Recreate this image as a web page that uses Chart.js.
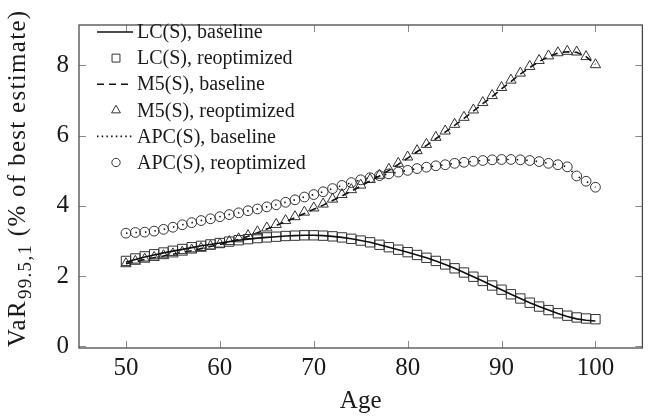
<!DOCTYPE html>
<html>
<head>
<meta charset="utf-8">
<script src="https://cdn.jsdelivr.net/npm/chart.js@4.4.1/dist/chart.umd.min.js"></script>
<style>
  html, body { margin: 0; padding: 0; background: #ffffff; }
  #wrap { width: 650px; height: 419px; }
</style>
</head>
<body>
<div id="wrap"><canvas id="c" width="650" height="419"></canvas></div>
<script>
// ---- data ----
const ages = [50,51,52,53,54,55,56,57,58,59,60,61,62,63,64,65,66,67,68,69,70,
              71,72,73,74,75,76,77,78,79,80,81,82,83,84,85,86,87,88,89,90,
              91,92,93,94,95,96,97,98,99,100];

const lcBaseline = [2.39,2.47,2.54,2.60,2.66,2.71,2.76,2.81,2.86,2.90,2.94,2.98,3.02,3.05,3.08,3.10,3.12,3.14,3.15,3.16,3.16,
                    3.15,3.13,3.10,3.06,3.01,2.96,2.89,2.82,2.75,2.68,2.60,2.52,2.43,2.33,2.22,2.10,1.98,1.86,1.73,1.61,
                    1.48,1.36,1.24,1.13,1.03,0.93,0.85,0.78,0.74,0.72];
const lcReopt    = [2.43,2.50,2.56,2.62,2.67,2.72,2.77,2.82,2.86,2.90,2.94,2.98,3.02,3.05,3.08,3.10,3.12,3.14,3.15,3.16,3.16,
                    3.15,3.13,3.10,3.06,3.01,2.96,2.89,2.82,2.75,2.68,2.60,2.52,2.43,2.33,2.22,2.10,1.98,1.86,1.73,1.61,
                    1.48,1.36,1.24,1.13,1.03,0.94,0.87,0.82,0.79,0.77];

const m5Baseline = [2.35,2.41,2.47,2.52,2.57,2.62,2.67,2.72,2.78,2.84,2.90,2.97,3.04,3.13,3.23,3.34,3.44,3.55,3.66,3.78,3.90,
                    4.02,4.15,4.28,4.42,4.56,4.71,4.85,5.01,5.18,5.36,5.54,5.72,5.91,6.10,6.29,6.49,6.70,6.91,7.11,7.33,
                    7.54,7.75,7.94,8.11,8.25,8.35,8.39,8.37,8.25,8.03];
const m5Reopt    = [2.35,2.42,2.48,2.53,2.58,2.63,2.68,2.74,2.79,2.85,2.91,2.98,3.06,3.15,3.26,3.37,3.47,3.58,3.69,3.82,3.94,
                    4.05,4.19,4.32,4.46,4.59,4.75,4.87,5.04,5.21,5.39,5.57,5.75,5.95,6.13,6.32,6.52,6.73,6.94,7.14,7.37,
                    7.58,7.78,7.97,8.14,8.27,8.36,8.40,8.38,8.25,8.02];

const apcBaseline = [3.22,3.24,3.25,3.28,3.33,3.39,3.46,3.52,3.58,3.63,3.69,3.75,3.80,3.86,3.91,3.97,4.03,4.10,4.17,4.25,4.32,
                     4.40,4.49,4.58,4.66,4.74,4.80,4.86,4.91,4.96,5.01,5.06,5.10,5.14,5.17,5.21,5.24,5.27,5.29,5.31,5.32,
                     5.32,5.31,5.29,5.26,5.21,5.17,5.11,4.85,4.70,4.53];
const apcReopt    = [3.22,3.24,3.25,3.28,3.33,3.39,3.46,3.52,3.58,3.63,3.69,3.75,3.80,3.86,3.91,3.97,4.03,4.10,4.17,4.25,4.32,
                     4.40,4.49,4.58,4.66,4.74,4.80,4.86,4.91,4.96,5.01,5.06,5.10,5.14,5.17,5.21,5.24,5.27,5.29,5.31,5.32,
                     5.32,5.31,5.29,5.26,5.21,5.17,5.11,4.85,4.70,4.53];

const seriesNames = ['LC(S), baseline','LC(S), reoptimized','M5(S), baseline',
                     'M5(S), reoptimized','APC(S), baseline','APC(S), reoptimized'];
const xTicks = [50,60,70,80,90,100];
const yTicks = [0,2,4,6,8];
const xTitle = 'Age';
const yTitleMain = 'VaR';
const yTitleSub = '99.5,1';
const yTitleRest = ' (% of best estimate)';

// ---- helpers ----
const pts = (ys) => ages.map((a, i) => ({x: a, y: ys[i]}));
const SERIF = '"Liberation Serif", "Times New Roman", serif';
const INK = '#1a1a1a';
const MARK = '#333333';

function lineDs(label, ys, dash, legendDash) {
  return { label, data: pts(ys), borderColor: '#111111', borderWidth: 1.6,
           borderDash: dash, legendDash, pointRadius: 0, fill: false, tension: 0 };
}
function markDs(label, ys, style, r) {
  return { label, data: pts(ys), showLine: false, pointStyle: style, pointRadius: r,
           pointBorderColor: MARK, pointBackgroundColor: 'rgba(0,0,0,0)', pointBorderWidth: 1,
           borderColor: MARK, backgroundColor: 'rgba(0,0,0,0)' };
}

const datasets = [
  lineDs(seriesNames[0], lcBaseline, [], []),
  markDs(seriesNames[1], lcReopt, 'rect', 6.6),
  lineDs(seriesNames[2], m5Baseline, [7,5], [7,5]),
  markDs(seriesNames[3], m5Reopt, 'triangle', 6),
  lineDs(seriesNames[4], apcBaseline, [1.5,8], [1.5,3.2]),
  markDs(seriesNames[5], apcReopt, 'circle', 4.9)
];

function drawMarker(ctx, style, r, x, y) {
  ctx.beginPath();
  if (style === 'rect') {
    const s = Math.SQRT1_2 * r;
    ctx.rect(x - s, y - s, 2 * s, 2 * s);
  } else if (style === 'triangle') {
    ctx.moveTo(x, y - r);
    ctx.lineTo(x + r * Math.cos(Math.PI / 6), y + r / 2);
    ctx.lineTo(x - r * Math.cos(Math.PI / 6), y + r / 2);
    ctx.closePath();
  } else {
    ctx.arc(x, y, r, 0, Math.PI * 2);
  }
  ctx.stroke();
}

const decor = {
  id: 'decor',
  afterDraw(chart) {
    const ctx = chart.ctx;
    const a = chart.chartArea;
    const xs = chart.scales.x, ys = chart.scales.y;
    ctx.save();
    // inward tick marks
    ctx.strokeStyle = '#8a8a8a';
    ctx.lineWidth = 1;
    const tl = 7;
    xTicks.forEach(v => {
      const px = Math.round(xs.getPixelForValue(v)) + 0.5;
      ctx.beginPath();
      ctx.moveTo(px, a.bottom); ctx.lineTo(px, a.bottom - tl);
      ctx.moveTo(px, a.top); ctx.lineTo(px, a.top + tl);
      ctx.stroke();
    });
    yTicks.forEach(v => {
      const py = Math.round(ys.getPixelForValue(v)) + 0.5;
      ctx.beginPath();
      ctx.moveTo(a.left, py); ctx.lineTo(a.left + tl, py);
      ctx.moveTo(a.right, py); ctx.lineTo(a.right - tl, py);
      ctx.stroke();
    });
    // frame
    ctx.strokeStyle = '#4a4a4a';
    ctx.lineWidth = 1.3;
    ctx.strokeRect(a.left, a.top, a.right - a.left, a.bottom - a.top);

    // x title
    ctx.fillStyle = INK;
    ctx.font = '25px ' + SERIF;
    ctx.textAlign = 'center';
    ctx.textBaseline = 'alphabetic';
    ctx.fillText(xTitle, (a.left + a.right) / 2, 408);

    // y title (rotated, with subscript)
    ctx.save();
    ctx.translate(25, 347);
    ctx.rotate(-Math.PI / 2);
    ctx.textAlign = 'left';
    try { ctx.letterSpacing = '1.3px'; } catch (e) {}
    ctx.font = '25px ' + SERIF;
    ctx.fillText(yTitleMain, 0, 0);
    let off = ctx.measureText(yTitleMain).width;
    ctx.font = '19px ' + SERIF;
    ctx.fillText(yTitleSub, off + 1, 6);
    off += ctx.measureText(yTitleSub).width + 1;
    ctx.font = '25px ' + SERIF;
    ctx.fillText(yTitleRest, off, 0);
    ctx.restore();

    // legend
    ctx.font = '20px ' + SERIF;
    ctx.textAlign = 'left';
    ctx.textBaseline = 'middle';
    chart.data.datasets.forEach((ds, i) => {
      const y = 32 + i * 26.1;
      if (ds.showLine === false) {
        ctx.strokeStyle = MARK;
        ctx.lineWidth = 1;
        ctx.setLineDash([]);
        drawMarker(ctx, ds.pointStyle, ds.pointRadius * 0.85, 116, y);
      } else {
        ctx.strokeStyle = ds.borderColor;
        ctx.lineWidth = ds.borderWidth;
        ctx.setLineDash(ds.legendDash || []);
        ctx.beginPath();
        ctx.moveTo(97, y); ctx.lineTo(133, y);
        ctx.stroke();
        ctx.setLineDash([]);
      }
      ctx.fillStyle = INK;
      ctx.fillText(ds.label, 137, y + 1);
    });
    ctx.restore();
  }
};

new Chart(document.getElementById('c'), {
  type: 'line',
  data: { datasets },
  plugins: [decor],
  options: {
    responsive: false,
    animation: false,
    devicePixelRatio: 1,
    layout: { padding: { top: 8, right: 3, left: 0, bottom: 0 } },
    plugins: { legend: { display: false }, tooltip: { enabled: false } },
    scales: {
      x: {
        type: 'linear', min: 45, max: 105,
        grid: { display: false, drawTicks: false },
        border: { display: false },
        afterBuildTicks: s => { s.ticks = xTicks.map(v => ({ value: v })); },
        afterFit: s => { s.height = 71; },
        ticks: { font: { family: SERIF, size: 25 }, color: INK, padding: 5, maxRotation: 0 }
      },
      y: {
        type: 'linear', min: -0.05, max: 9.15,
        grid: { display: false, drawTicks: false },
        border: { display: false },
        afterBuildTicks: s => { s.ticks = yTicks.map(v => ({ value: v })); },
        afterFit: s => { s.width = 79; },
        ticks: { font: { family: SERIF, size: 25 }, color: INK, padding: 10 }
      }
    }
  }
});
</script>
</body>
</html>
